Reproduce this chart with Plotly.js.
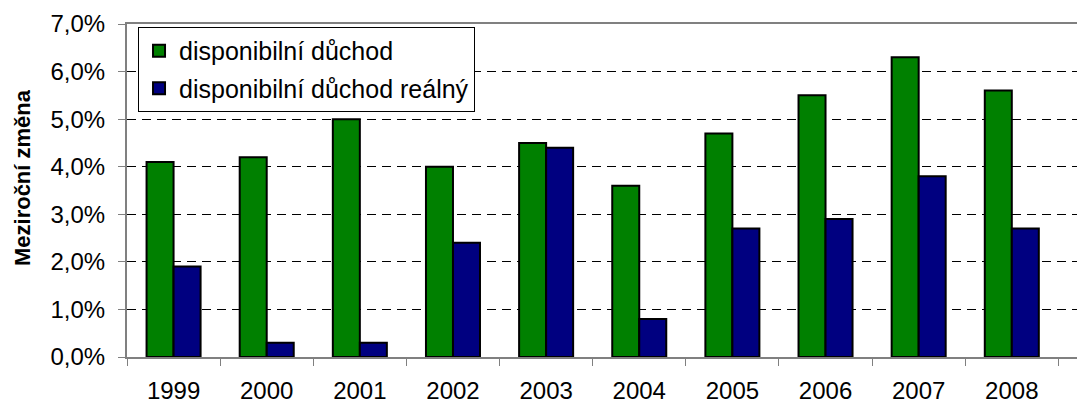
<!DOCTYPE html>
<html>
<head>
<meta charset="utf-8">
<script src="https://cdn.plot.ly/plotly-3.0.1.min.js"></script>
<style>
  html, body { margin: 0; padding: 0; background: #fff; overflow: hidden; }
  #chart { width: 1077px; height: 405px; }
</style>
</head>
<body>
<div id="chart"></div>
<script>
// Years on the category axis
const years = ['1999', '2000', '2001', '2002', '2003', '2004', '2005', '2006', '2007', '2008'];
// Year-on-year change of disposable income, in percent
const nominalIncome = [4.1, 4.2, 5.0, 4.0, 4.5, 3.6, 4.7, 5.5, 6.3, 5.6];
const realIncome = [1.9, 0.3, 0.3, 2.4, 4.4, 0.8, 2.7, 2.9, 3.8, 2.7];
// Series names
const seriesNames = ['disponibilní důchod', 'disponibilní důchod reálný'];
const yTitle = 'Meziroční změna';

const font = 'Arial, "Liberation Sans", sans-serif';

const traces = [
  {
    type: 'bar', x: years, y: nominalIncome, name: seriesNames[0], legendgroup: 'a',
    marker: { color: '#008000', line: { color: '#000', width: 2 } }
  },
  {
    type: 'bar', x: years, y: realIncome, name: seriesNames[1], legendgroup: 'b',
    marker: { color: '#000080', line: { color: '#000', width: 2 } }
  }
];

const layout = {
  width: 1077, height: 405,
  margin: { l: 127, r: 0, t: 24, b: 48 },
  paper_bgcolor: '#fff', plot_bgcolor: '#fff',
  separators: ', ',
  barmode: 'group',
  bargap: 0.42, bargroupgap: 0,
  showlegend: true,
  font: { family: font, size: 24, color: '#000' },
  legend: {
    x: 0.0116, y: 0.991, xanchor: 'left', yanchor: 'top',
    bgcolor: '#fff', bordercolor: '#000', borderwidth: 1,
    font: { family: font, size: 25, color: '#000' },
    itemwidth: 30, traceorder: 'grouped', tracegroupgap: 2
  },
  xaxis: {
    type: 'category',
    range: [-0.5, 9.7],
    tickson: 'boundaries',
    ticks: 'outside', ticklen: 7, tickcolor: '#808080', tickwidth: 1,
    showline: true, linecolor: '#808080', linewidth: 2, mirror: true,
    showgrid: false, zeroline: false,
    tickfont: { family: font, size: 24, color: '#000' },
    ticklabelstandoff: 11,
    fixedrange: true
  },
  yaxis: {
    range: [0, 7],
    dtick: 1, tick0: 0,
    tickformat: '.1f', ticksuffix: '%',
    ticks: 'outside', ticklen: 7, tickcolor: '#808080', tickwidth: 1,
    showline: true, linecolor: '#808080', linewidth: 2,
    showgrid: true, gridcolor: '#000', gridwidth: 1, griddash: '9px,6px',
    zeroline: false,
    tickfont: { family: font, size: 24, color: '#000' },
    ticklabelstandoff: 8,
    fixedrange: true
  },
  annotations: [{
    text: yTitle, textangle: -90,
    xref: 'paper', yref: 'paper', x: -0.1105, y: 0.5375,
    xanchor: 'center', yanchor: 'middle', showarrow: false,
    font: { family: font, size: 22, color: '#000', weight: 'bold' }
  }]
};

Plotly.newPlot('chart', traces, layout, { displayModeBar: false, staticPlot: true });
</script>
</body>
</html>
